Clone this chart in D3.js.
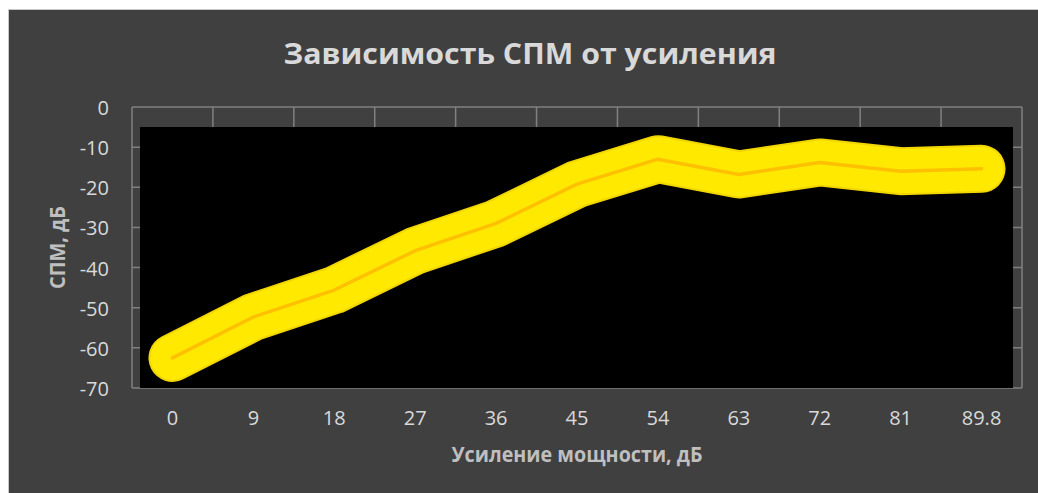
<!DOCTYPE html>
<meta charset="utf-8">
<style>
  body {
    margin: 0;
    background: #fff;
    font-family: "Open Sans", sans-serif;
  }
</style>
<body>
  <script src="https://d3js.org/d3.v7.min.js"></script>
  <script>
    // data
    var gains = ["0", "9", "18", "27", "36", "45", "54", "63", "72", "81", "89.8"];
    var spm = [-62.5, -52.3, -45.6, -35.8, -29.0, -19.2, -13.0, -16.8, -13.8, -16.0, -15.4];
    var yTicks = [0, -10, -20, -30, -40, -50, -60, -70];

    var width = 1038, height = 493;

    var svg = d3.select("body").append("svg")
      .attr("width", width)
      .attr("height", height);

    // dark chart background
    svg.append("rect")
      .attr("x", 8.5).attr("y", 9.5)
      .attr("width", width - 8).attr("height", height - 9)
      .attr("fill", "#404040")
      .attr("stroke", "#c8c8c8");

    // scales
    var x = d3.scaleBand().domain(gains).range([132, 1022]);
    var y = d3.scaleLinear().domain([-70, 0]).range([388, 107]);

    // gridlines (only the edges show, the black plot covers the rest)
    var grid = svg.append("g").attr("stroke", "#808080").attr("stroke-width", 1.5);
    grid.selectAll(".h").data(yTicks).enter().append("line")
      .attr("x1", x.range()[0]).attr("x2", x.range()[1])
      .attr("y1", d => y(d)).attr("y2", d => y(d));
    var edges = gains.map(d => x(d)).concat([x.range()[1]]);
    grid.selectAll(".v").data(edges).enter().append("line")
      .attr("x1", d => d).attr("x2", d => d)
      .attr("y1", y(0)).attr("y2", y(-70));

    // black plot area
    svg.append("rect")
      .attr("x", 140).attr("y", 127)
      .attr("width", 1013 - 140).attr("height", y(-70) - 127)
      .attr("fill", "#000");

    var line = d3.line()
      .x((d, i) => x(gains[i]) + x.bandwidth() / 2)
      .y(d => y(d));

    // yellow glow
    svg.append("path")
      .datum(spm)
      .attr("d", line)
      .attr("fill", "none")
      .attr("stroke", "#f2d600")
      .attr("stroke-width", 48)
      .attr("stroke-linecap", "round")
      .attr("stroke-linejoin", "round");
    svg.append("path")
      .datum(spm)
      .attr("d", line)
      .attr("fill", "none")
      .attr("stroke", "#ffe900")
      .attr("stroke-width", 44)
      .attr("stroke-linecap", "round")
      .attr("stroke-linejoin", "round");
    // the line itself
    svg.append("path")
      .datum(spm)
      .attr("d", line)
      .attr("fill", "none")
      .attr("stroke", "#ffc000")
      .attr("stroke-width", 3.5)
      .attr("stroke-linecap", "round")
      .attr("stroke-linejoin", "round");

    // tick labels
    svg.append("g").selectAll("text").data(yTicks).enter().append("text")
      .attr("x", 109).attr("y", d => y(d) + 8)
      .attr("text-anchor", "end")
      .attr("fill", "#d9d9d9")
      .attr("font-size", 20)
      .text(d => d);
    svg.append("g").selectAll("text").data(gains).enter().append("text")
      .attr("x", d => x(d) + x.bandwidth() / 2).attr("y", 425)
      .attr("text-anchor", "middle")
      .attr("fill", "#d9d9d9")
      .attr("font-size", 20)
      .text(d => d);

    // titles
    svg.append("text")
      .attr("x", 530).attr("y", 64)
      .attr("text-anchor", "middle")
      .attr("fill", "#d9d9d9")
      .attr("font-size", 29).attr("font-weight", "bold")
      .attr("textLength", 493).attr("lengthAdjust", "spacingAndGlyphs")
      .text("Зависимость СПМ от усиления");
    svg.append("text")
      .attr("x", 577).attr("y", 462)
      .attr("text-anchor", "middle")
      .attr("fill", "#bfbfbf")
      .attr("font-size", 21).attr("font-weight", "bold")
      .attr("textLength", 251).attr("lengthAdjust", "spacingAndGlyphs")
      .text("Усиление мощности, дБ");
    svg.append("text")
      .attr("transform", "translate(65," + y(-35) + ") rotate(-90)")
      .attr("text-anchor", "middle")
      .attr("fill", "#bfbfbf")
      .attr("font-size", 21).attr("font-weight", "bold")
      .attr("textLength", 83).attr("lengthAdjust", "spacingAndGlyphs")
      .text("СПМ, дБ");
  </script>
</body>
